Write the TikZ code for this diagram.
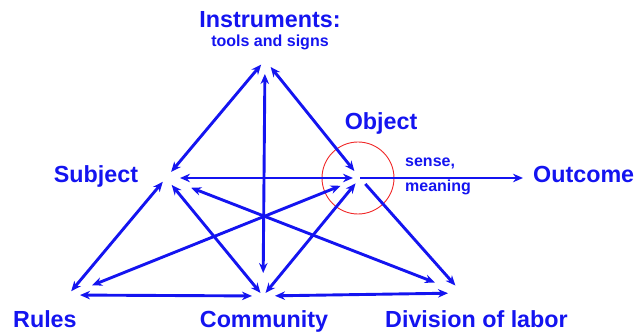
\documentclass[tikz,border=0pt]{standalone}
\usepackage{fontspec}
\setmainfont{Liberation Sans}
\usepackage{tikz}
\usetikzlibrary{arrows.meta}
\definecolor{actblue}{RGB}{20,20,240}
\definecolor{focusred}{RGB}{240,40,40}

\begin{document}
\begin{tikzpicture}[
      x=1pt, y=-1pt,
      arr/.style={draw=actblue, line width=2.9pt, {Stealth[length=10pt,width=8.5pt]}-{Stealth[length=10pt,width=8.5pt]}},
      oneway/.style={draw=actblue, line width=2.9pt, -{Stealth[length=10pt,width=8.5pt]}},
      lbl/.style={text=actblue, font=\fontsize{23.3}{26}\selectfont\bfseries, inner sep=0pt},
      note/.style={text=actblue, font=\fontsize{16}{18}\selectfont\bfseries, inner sep=0pt},
    ]
    \useasboundingbox (0,0) rectangle (639,336);

    % corners of the triangle
    \coordinate (instr) at (265,60);
    \coordinate (subj) at (166,178);
    \coordinate (obj) at (360,178);
    \coordinate (rules) at (68,295);
    \coordinate (comm) at (263,296);
    \coordinate (div) at (462,293);

    % labels
    \node[lbl, anchor=base] (instrlbl) at (270,28) {Instruments:};
    \node[note, anchor=base] (toolslbl) at (270,47) {tools and signs};
    \node[lbl, anchor=base] (objlbl) at (381,130) {Object};
    \node[lbl, anchor=base] (subjlbl) at (96,183) {Subject};
    \node[lbl, anchor=base west] (outlbl) at (533,183) {Outcome};
    \node[note, anchor=base west] (senselbl) at (405,167) {sense,};
    \node[note, anchor=base west] (meanlbl) at (405,192) {meaning};
    \node[lbl, anchor=base west] (ruleslbl) at (13,327) {Rules};
    \node[lbl, anchor=base] (commlbl) at (264,327) {Community};
    \node[lbl, anchor=base west] (divlbl) at (385,327) {Division of labor};

    % focus on the object
    \draw[focusred, line width=0.9pt] (358,178) circle (36);

    % mediation
    \draw[arr, shorten <=8pt, shorten >=6pt] (subj) -- (instr);
    \draw[arr, shorten <=9pt, shorten >=9pt] (obj) -- (instr);
    \draw[arr, shorten <=14pt, shorten >=23pt] (instr) -- (comm);
    \draw[arr, shorten <=14pt, shorten >=7pt] (subj) -- (obj);
    \draw[oneway, shorten >=10pt] (obj) -- (outlbl.west |- obj);
    % lower triangle
    \draw[arr, shorten <=5pt, shorten >=5pt] (subj) -- (rules);
    \draw[arr, shorten <=9pt, shorten >=4pt] (subj) -- (comm);
    \draw[arr, shorten <=27pt, shorten >=29pt] (subj) -- (div);
    \draw[arr, shorten <=21pt, shorten >=26pt] (obj) -- (rules);
    \draw[arr, shorten <=7pt, shorten >=4pt] (obj) -- (comm);
    \draw[oneway, shorten <=8pt, shorten >=10pt] (obj) -- (div);
    \draw[arr, shorten <=12pt, shorten >=11pt] (rules) -- (comm);
    \draw[arr, shorten <=12pt, shorten >=14pt] (comm) -- (div);
  \end{tikzpicture}
\end{document}
